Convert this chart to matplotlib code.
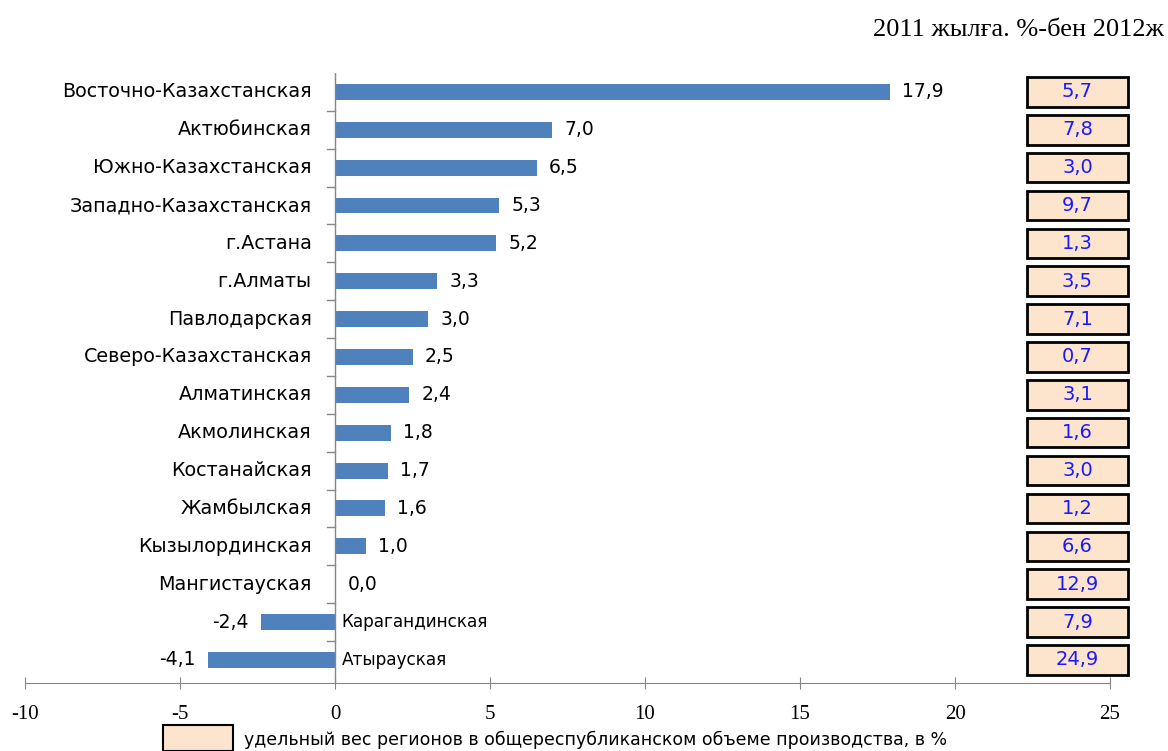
import matplotlib.pyplot as plt
from matplotlib.patches import Rectangle

regions = ['Восточно-Казахстанская', 'Актюбинская', 'Южно-Казахстанская',
           'Западно-Казахстанская', 'г.Астана', 'г.Алматы', 'Павлодарская',
           'Северо-Казахстанская', 'Алматинская', 'Акмолинская', 'Костанайская',
           'Жамбылская', 'Кызылординская', 'Мангистауская', 'Карагандинская',
           'Атырауская']
growth = [17.9, 7.0, 6.5, 5.3, 5.2, 3.3, 3.0, 2.5, 2.4, 1.8, 1.7, 1.6, 1.0, 0.0, -2.4, -4.1]
share = [5.7, 7.8, 3.0, 9.7, 1.3, 3.5, 7.1, 0.7, 3.1, 1.6, 3.0, 1.2, 6.6, 12.9, 7.9, 24.9]
xticks = [-10, -5, 0, 5, 10, 15, 20, 25]

bar_color = '#4f81bd'
box_color = '#fde4cc'
grey = '#868686'

def fmt(v):
    return f'{v:.1f}'.replace('.', ',')

fig = plt.figure(figsize=(11.68, 7.51), dpi=100)
ax = fig.add_axes([25 / 1168, 1 - 683 / 751, (1110 - 25) / 1168, (683 - 73) / 751])

ys = list(range(len(regions)))
ax.barh(ys, growth, height=0.42, color=bar_color)
ax.set_xlim(-10, 25)
ax.set_ylim(15.61, -0.5)

for s in ['top', 'right', 'left']:
    ax.spines[s].set_visible(False)
ax.spines['bottom'].set_color(grey)
ax.axvline(0, color=grey, lw=1)

ax.set_xticks(xticks)
ax.set_xticklabels([str(t) for t in xticks], fontsize=15, family='Liberation Serif')
ax.tick_params(axis='x', length=8, direction='inout', color=grey, pad=12)
ax.set_yticks([])

# small ticks between categories on the zero line
for i in range(len(regions) - 1):
    ax.plot([-0.27, 0], [i + 0.5, i + 0.5], color=grey, lw=1)

for y, name, v, sh in zip(ys, regions, growth, share):
    if v < 0:
        ax.text(0.22, y, name, ha='left', va='center', fontsize=12.2, family='DejaVu Sans')
        ax.text(v - 0.4, y, fmt(v), ha='right', va='center', fontsize=13.5, family='DejaVu Sans')
    else:
        ax.text(-0.75, y, name, ha='right', va='center', fontsize=13.8, family='DejaVu Sans')
        ax.text(v + 0.4, y, fmt(v), ha='left', va='center', fontsize=13.5, family='DejaVu Sans')
    ax.add_patch(Rectangle((22.32, y - 0.39), 3.26, 0.78, facecolor=box_color,
                           edgecolor='black', lw=2, clip_on=False))
    ax.text(23.95, y, fmt(sh), ha='center', va='center', fontsize=14,
            color='#1a1aff', family='DejaVu Sans')

fig.text(1164 / 1168, 1 - 30 / 751, '2011 жылға. %-бен 2012ж', ha='right', va='center',
         fontsize=19, family='Liberation Serif')

fig.patches.append(Rectangle((163 / 1168, 0), 70 / 1168, 26 / 751, transform=fig.transFigure,
                             facecolor=box_color, edgecolor='black', lw=1.5))
fig.text(244 / 1168, 1 - 740 / 751,
         'удельный вес регионов в общереспубликанском объеме производства, в %',
         ha='left', va='center', fontsize=12.5, family='DejaVu Sans')

fig.savefig('out.png', dpi=100)
